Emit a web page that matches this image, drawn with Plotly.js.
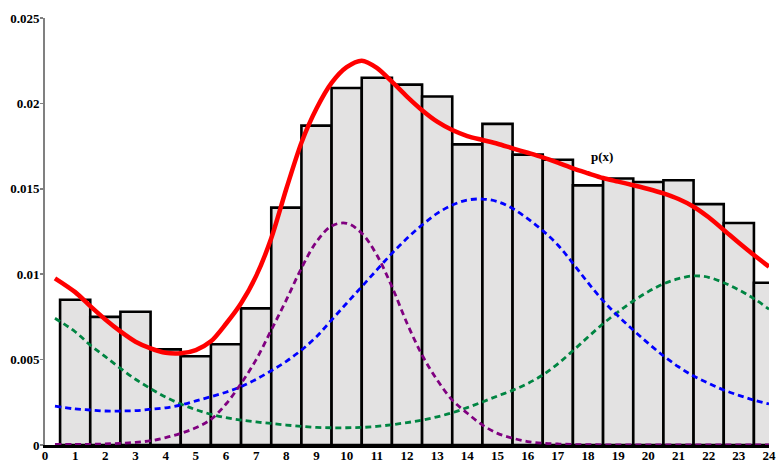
<!DOCTYPE html>
<html>
<head>
<meta charset="utf-8">
<script src="https://cdn.plot.ly/plotly-3.0.1.min.js"></script>
<style>html,body{margin:0;padding:0;background:#fff;}#chart{width:778px;height:465px;}</style>
</head>
<body>
<div id="chart"></div>
<script>
// Histogram bins (centers) and heights
const binCenters = [1,2,3,4,5,6,7,8,9,10,11,12,13,14,15,16,17,18,19,20,21,22,23,24];
const binHeights = [0.0085,0.0075,0.0078,0.0056,0.0052,0.0059,0.0080,0.0139,0.0187,0.0209,0.0215,0.0211,0.0204,0.0176,0.0188,0.0170,0.0167,0.0152,0.0156,0.0154,0.0155,0.0141,0.0130,0.0095];

// Sample positions for curves
const curveX = [0.33,1,1.5,2,2.5,3,3.5,4,4.5,5,5.5,6,6.5,7,7.5,8,8.5,9,9.5,10,10.5,11,11.5,12,12.5,13,13.5,14,14.5,15,15.5,16,16.5,17,17.5,18,18.5,19,19.5,20,20.5,21,21.5,22,22.5,23,23.5,24];

// Mixture density p(x)
const pxValues = [0.00976,0.00895,0.00813,0.00735,0.00665,0.00605,0.00566,0.0054,0.00537,0.00556,0.00607,0.0071,0.0083,0.0099,0.0121,0.0150,0.0177,0.0197,0.0212,0.02212,0.0225,0.02208,0.02127,0.0204,0.0196,0.01893,0.01844,0.01809,0.01786,0.01764,0.01737,0.01711,0.01684,0.01653,0.0162,0.01591,0.01563,0.01542,0.01521,0.01499,0.01473,0.0144,0.01395,0.01333,0.01259,0.01184,0.01112,0.01044];

// Components
const purpleComp = [0.00003,0.00003,0.00004,0.00006,0.0001,0.00015,0.00025,0.00043,0.00068,0.00101,0.0015,0.0024,0.0036,0.005,0.00673,0.00849,0.01035,0.0119,0.01282,0.01298,0.0124,0.01112,0.00927,0.00713,0.00527,0.00381,0.00263,0.00186,0.00117,0.00068,0.0004,0.0002,0.0001,0.00006,0.00003,0.00002,0.00001,0.00001,0.00001,0.00001,0.00001,0.00001,0.00001,0.00001,0.00001,0.00001,0.00001,0.00001];
const blueComp = [0.00228,0.00211,0.00205,0.00199,0.00199,0.00201,0.00209,0.00218,0.00234,0.00258,0.00283,0.00309,0.00342,0.00385,0.00435,0.00490,0.00556,0.00634,0.00732,0.0083,0.00927,0.01025,0.01122,0.0121,0.01288,0.01356,0.01405,0.01434,0.0144,0.01425,0.01385,0.01325,0.01255,0.01171,0.01064,0.0095,0.00845,0.00755,0.00673,0.00595,0.00522,0.00458,0.00404,0.00361,0.00322,0.00291,0.00263,0.0024];
const greenComp = [0.00742,0.00663,0.00585,0.00517,0.00449,0.00385,0.0033,0.0028,0.0024,0.00207,0.0018,0.0016,0.00146,0.00135,0.00126,0.00117,0.00109,0.00103,0.00101,0.00101,0.00103,0.00109,0.00119,0.00131,0.00146,0.00165,0.00189,0.00219,0.00252,0.00287,0.0032,0.0036,0.0041,0.00475,0.00552,0.00632,0.00710,0.0078,0.00843,0.00898,0.00943,0.00974,0.0099,0.00982,0.0095,0.00908,0.00857,0.00795];

// Axis ticks
const xTickVals = [0,1,2,3,4,5,6,7,8,9,10,11,12,13,14,15,16,17,18,19,20,21,22,23,24];
const yTickVals = [0,0.005,0.01,0.015,0.02,0.025];
const yTickText = ["0","0.005","0.01","0.015","0.02","0.025"];
const labelText = "p(x)";
const labelPos = [18.48, 0.0169];

const serif = "Liberation Serif, Times New Roman, serif";
const dash = "6px,4px";

const traces = [
  {type:'bar', x:binCenters, y:binHeights, width:1,
   marker:{color:'#e3e2e2', line:{color:'#000', width:2.6}}, hoverinfo:'skip'},
  {type:'scatter', mode:'lines', x:curveX, y:greenComp, line:{color:'#008542', width:2.8, dash:dash, shape:'spline'}},
  {type:'scatter', mode:'lines', x:curveX, y:blueComp, line:{color:'#0000ff', width:2.8, dash:dash, shape:'spline'}},
  {type:'scatter', mode:'lines', x:curveX, y:purpleComp, line:{color:'#800080', width:2.8, dash:dash, shape:'spline'}},
  {type:'scatter', mode:'lines', x:curveX, y:pxValues, line:{color:'#ff0000', width:4.5, shape:'spline', smoothing:0.8}}
];

const layout = {
  width:778, height:465,
  margin:{l:45, r:9, t:18, b:20, pad:0},
  paper_bgcolor:'#fff', plot_bgcolor:'#fff',
  showlegend:false,
  bargap:0,
  xaxis:{range:[0,24], tickvals:xTickVals, ticktext:xTickVals.map(String),
         showline:true, linecolor:'#000', linewidth:2.5, ticks:'', showgrid:false, zeroline:false,
         tickfont:{family:serif, size:13, color:'#000', weight:'bold'}, ticklabelstandoff:-3},
  yaxis:{range:[0,0.025], tickvals:yTickVals, ticktext:yTickText,
         showline:true, linecolor:'#808080', linewidth:2, ticks:'outside', ticklen:3, tickcolor:'#808080', tickwidth:1.5,
         showgrid:false, zeroline:false,
         tickfont:{family:serif, size:13, color:'#000', weight:'bold'}, ticklabelstandoff:-2},
  annotations:[{x:labelPos[0], y:labelPos[1], text:labelText, showarrow:false,
                font:{family:serif, size:13, color:'#000', weight:'bold'}}]
};

Plotly.newPlot('chart', traces, layout, {displayModeBar:false, staticPlot:true});
</script>
</body>
</html>
